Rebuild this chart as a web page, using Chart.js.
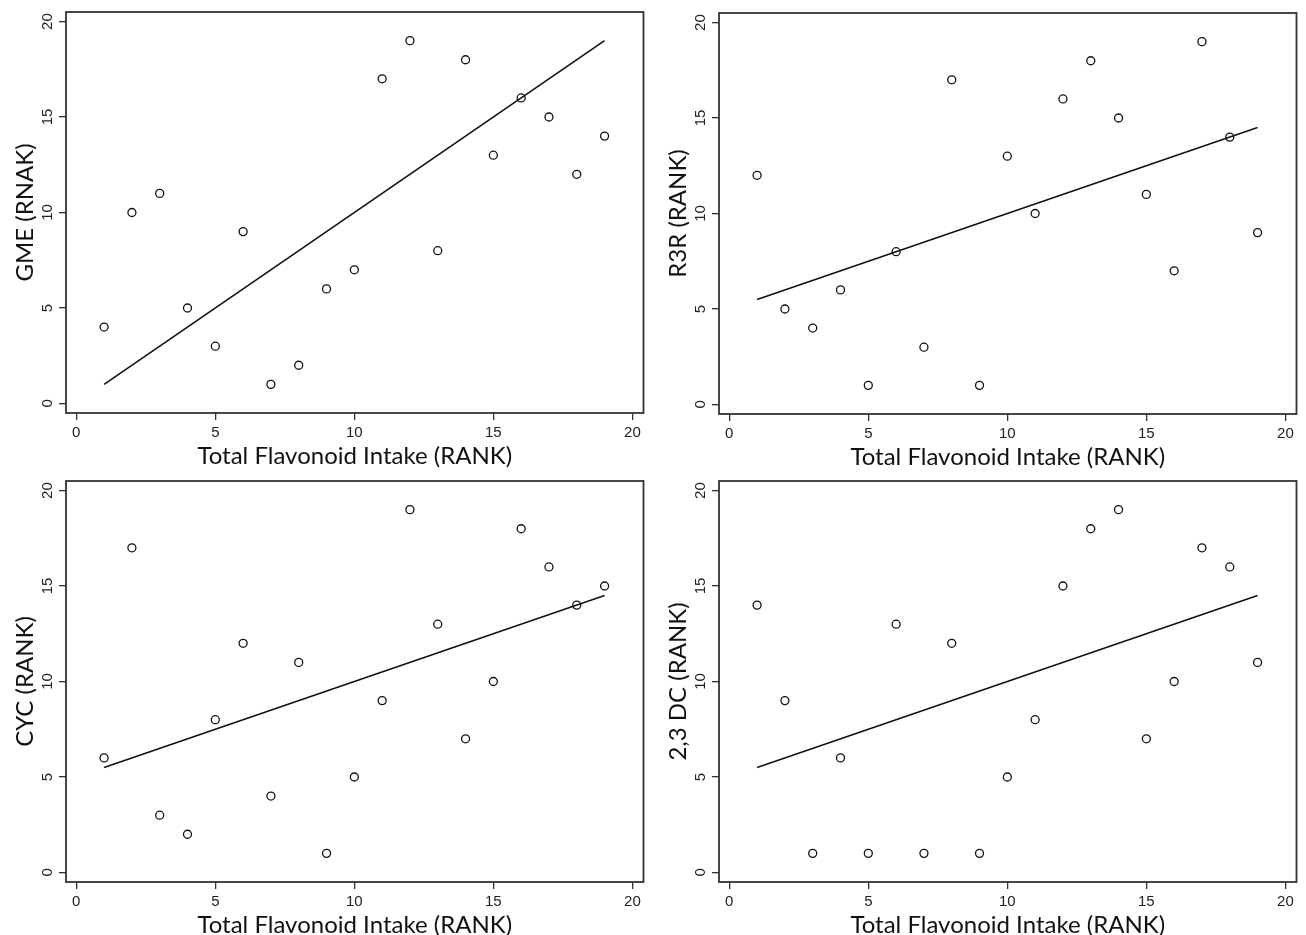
<!DOCTYPE html>
<html>
<head>
<meta charset="utf-8">
<script src="https://cdn.jsdelivr.net/npm/chart.js@4.4.1/dist/chart.umd.min.js"></script>
<style>
  html, body { margin: 0; padding: 0; background: #ffffff; width: 1306px; height: 935px; overflow: hidden; }
  canvas { position: absolute; }
</style>
</head>
<body>
<canvas id="c1" width="653" height="475" style="left:0px;top:0px"></canvas>
<canvas id="c2" width="653" height="475" style="left:653px;top:1px"></canvas>
<canvas id="c3" width="653" height="475" style="left:0px;top:469px"></canvas>
<canvas id="c4" width="653" height="475" style="left:653px;top:469px"></canvas>
<script>
// ---- data ----
const xRank = [1, 2, 3, 4, 5, 6, 7, 8, 9, 10, 11, 12, 13, 14, 15, 16, 17, 18, 19];
const gmeRank = [4, 10, 11, 5, 3, 9, 1, 2, 6, 7, 17, 19, 8, 18, 13, 16, 15, 12, 14];
const r3rRank = [12, 5, 4, 6, 1, 8, 3, 17, 1, 13, 10, 16, 18, 15, 11, 7, 19, 14, 9];
const cycRank = [6, 17, 3, 2, 8, 12, 4, 11, 1, 5, 9, 19, 13, 7, 10, 18, 16, 14, 15];
const dcRank  = [14, 9, 1, 6, 1, 13, 1, 12, 1, 5, 8, 15, 18, 19, 7, 10, 17, 16, 11];

const fitX = [1, 19];
const gmeFit = [1, 19];
const r3rFit = [5.5, 14.5];
const cycFit = [5.5, 14.5];
const dcFit  = [5.5, 14.5];

const tickValues = [0, 5, 10, 15, 20];
const xTitle = 'Total Flavonoid Intake (RANK)';
const yTitles = ['GME (RNAK)', 'R3R (RANK)', 'CYC (RANK)', '2,3 DC (RANK)'];

// ---- drawing ----
const INK = '#222222';
const FRAME = '#333333';

const boxPlugin = {
  id: 'frameBox',
  afterDatasetsDraw(chart) {
    const a = chart.chartArea;
    const ctx = chart.ctx;
    ctx.save();
    ctx.strokeStyle = FRAME;
    ctx.lineWidth = 1.8;
    ctx.strokeRect(a.left, a.top, a.right - a.left, a.bottom - a.top);
    ctx.restore();
  }
};

function toPoints(xs, ys) {
  return xs.map((x, i) => ({ x: x, y: ys[i] }));
}

function makeChart(id, values, fit, yTitle) {
  const tickFont = { family: '"Liberation Sans", Arial, sans-serif', size: 15 };
  const titleFont = { family: 'Lato, "Open Sans", sans-serif', size: 24, lineHeight: 1.2 };
  const gridOpts = { display: true, drawOnChartArea: false, drawTicks: true, tickLength: 7, color: FRAME, lineWidth: 1.3 };
  return new Chart(document.getElementById(id), {
    type: 'scatter',
    data: {
      datasets: [
        {
          data: toPoints(xRank, values),
          pointStyle: 'circle',
          pointRadius: 4,
          pointHoverRadius: 4,
          pointBorderWidth: 1.3,
          borderColor: '#111111',
          backgroundColor: 'rgba(0,0,0,0)',
          showLine: false
        },
        {
          type: 'line',
          data: toPoints(fitX, fit),
          borderColor: '#111111',
          borderWidth: 1.6,
          pointRadius: 0,
          fill: false,
          tension: 0
        }
      ]
    },
    options: {
      responsive: false,
      maintainAspectRatio: false,
      animation: false,
      events: [],
      layout: { padding: { top: 10, right: 9.5, bottom: 0, left: 0 } },
      plugins: { legend: { display: false }, tooltip: { enabled: false } },
      scales: {
        x: {
          type: 'linear',
          position: 'bottom',
          min: -0.37,
          max: 20.4,
          afterBuildTicks(s) { s.ticks = tickValues.map(v => ({ value: v })); },
          afterFit(s) { s.height = 62; },
          ticks: { font: tickFont, color: INK, padding: 3.5, maxRotation: 0, minRotation: 0 },
          grid: gridOpts,
          border: { display: false },
          title: { display: true, text: xTitle, font: titleFont, color: '#111111', padding: { top: 0, bottom: 4 } }
        },
        y: {
          type: 'linear',
          position: 'left',
          min: -0.5,
          max: 20.5,
          afterBuildTicks(s) { s.ticks = tickValues.map(v => ({ value: v })); },
          afterFit(s) { s.width = 66; },
          ticks: { font: tickFont, color: INK, padding: 3, minRotation: 90, maxRotation: 90, crossAlign: 'center' },
          grid: gridOpts,
          border: { display: false },
          title: { display: true, text: yTitle, font: titleFont, color: '#111111', padding: { top: 11, bottom: 0 } }
        }
      }
    },
    plugins: [boxPlugin]
  });
}

makeChart('c1', gmeRank, gmeFit, yTitles[0]);
makeChart('c2', r3rRank, r3rFit, yTitles[1]);
makeChart('c3', cycRank, cycFit, yTitles[2]);
makeChart('c4', dcRank, dcFit, yTitles[3]);
</script>
</body>
</html>
